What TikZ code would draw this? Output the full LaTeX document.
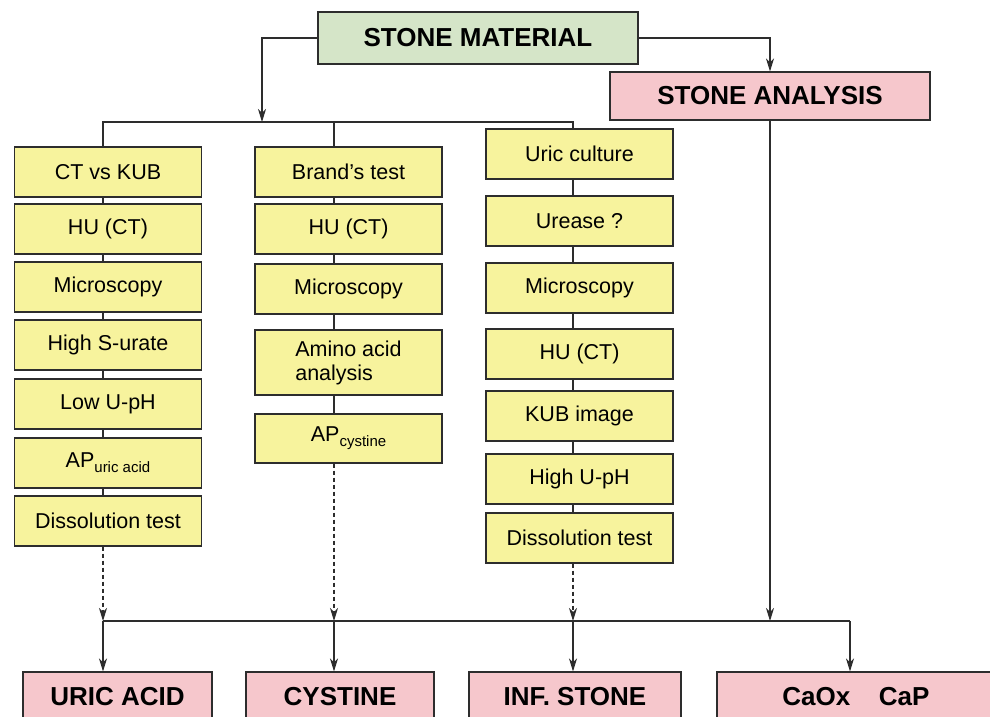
\documentclass[tikz,border=0pt]{standalone}
\usepackage{fontspec}
\setmainfont{Liberation Sans}
\usetikzlibrary{arrows.meta}

\definecolor{edgegray}{RGB}{45,45,45}
\definecolor{testyellow}{RGB}{247,243,157}
\definecolor{srcgreen}{RGB}{213,229,200}
\definecolor{respink}{RGB}{246,199,204}

\tikzset{
  testbox/.style={draw=edgegray, line width=1.1pt, fill=testyellow, minimum width=187pt,
    minimum height=50pt, inner sep=0pt, font=\fontsize{21.5}{24}\selectfont},
  srcbox/.style={draw=edgegray, line width=1.1pt, fill=srcgreen, minimum width=320pt,
    minimum height=52pt, inner sep=0pt, font=\fontsize{26}{30}\selectfont\bfseries},
  resbox/.style={draw=edgegray, line width=1.1pt, fill=respink, minimum height=50pt,
    inner sep=0pt, font=\fontsize{26}{30}\selectfont\bfseries},
  link/.style={edgegray, line width=1.2pt},
  arr/.style={link, -{Stealth[length=13pt,width=8pt,inset=4pt]}},
  dotarr/.style={arr, dash pattern=on 4pt off 3pt}
}

\begin{document}
\begin{tikzpicture}[x=1pt,y=-1pt]
  \useasboundingbox (0,0) rectangle (990,716);

  % source and analysis
  \node[srcbox] (mat) at (478,38) {STONE MATERIAL};
  \node[resbox, minimum width=320pt, minimum height=48pt] (ana) at (770,96) {STONE ANALYSIS};

  % bus points
  \coordinate (split) at (262,122);
  \coordinate (t1) at (103,122);
  \coordinate (t2) at (334,122);
  \coordinate (t3) at (573,122);
  \coordinate (b1) at (103,621);
  \coordinate (b2) at (334,621);
  \coordinate (b3) at (573,621);
  \coordinate (b4) at (850,621);
  \coordinate (bana) at (770,621);

  % uric acid column
  \node[testbox] (u1) at (108,172) {CT vs KUB};
  \node[testbox] (u2) at (108,229) {HU (CT)};
  \node[testbox] (u3) at (108,287) {Microscopy};
  \node[testbox] (u4) at (108,345) {High S-urate};
  \node[testbox] (u5) at (108,404) {Low U-pH};
  \node[testbox] (u6) at (108,463) {AP\raisebox{-0.45ex}{\fontsize{15}{15}\selectfont uric acid}};
  \node[testbox] (u7) at (108,521) {Dissolution test};

  % cystine column
  \node[testbox] (c1) at (348.5,172) {Brand’s test};
  \node[testbox] (c2) at (348.5,229) {HU (CT)};
  \node[testbox] (c3) at (348.5,289) {Microscopy};
  \node[testbox, minimum height=65pt, align=left] (c4) at (348.5,362.5) {Amino acid\\analysis};
  \node[testbox, minimum height=49pt] (c5) at (348.5,438.5) {AP\raisebox{-0.45ex}{\fontsize{15}{15}\selectfont cystine}};

  % infection stone column
  \node[testbox] (i1) at (579.5,154) {Uric culture};
  \node[testbox] (i2) at (579.5,221) {Urease ?};
  \node[testbox] (i3) at (579.5,288) {Microscopy};
  \node[testbox] (i4) at (579.5,354) {HU (CT)};
  \node[testbox] (i5) at (579.5,416) {KUB image};
  \node[testbox] (i6) at (579.5,479) {High U-pH};
  \node[testbox] (i7) at (579.5,538) {Dissolution test};

  % results
  \node[resbox, minimum width=189pt] (ruric) at (117.5,697) {URIC ACID};
  \node[resbox, minimum width=188pt] (rcys) at (340,697) {CYSTINE};
  \node[resbox, minimum width=212pt] (rinf) at (575,697) {INF. STONE};
  \node[resbox, minimum width=278pt] (rca) at (856,697) {CaOx\hspace{1.1em}CaP};

  % top connections
  \draw[arr] (mat.west) -| (split);
  \draw[arr] (mat.east) -| (ana.north -| 770,0);
  \draw[link] (t1 |- u1.north) -- (t1) -- (t3) -- (t3 |- i1.north);
  \draw[link] (t2) -- (t2 |- c1.north);

  % inside the columns
  \foreach \i [evaluate=\i as \j using int(\i+1)] in {1,...,6}{
    \draw[link] (u\i.south -| t1) -- (u\j.north -| t1);
    \draw[link] (i\i.south -| t3) -- (i\j.north -| t3);
  }
  \foreach \i [evaluate=\i as \j using int(\i+1)] in {1,...,4}
    \draw[link] (c\i.south -| t2) -- (c\j.north -| t2);

  % down to the bottom bus
  \draw[dotarr] (u7.south -| b1) -- (b1);
  \draw[dotarr] (c5.south -| b2) -- (b2);
  \draw[dotarr] (i7.south -| b3) -- (b3);
  \draw[arr] (ana.south -| bana) -- (bana);
  \draw[link] (b1) -- (b4);

  \draw[arr] (b1) -- (b1 |- ruric.north);
  \draw[arr] (b2) -- (b2 |- rcys.north);
  \draw[arr] (b3) -- (b3 |- rinf.north);
  \draw[arr] (b4) -- (b4 |- rca.north);
\end{tikzpicture}
\end{document}
